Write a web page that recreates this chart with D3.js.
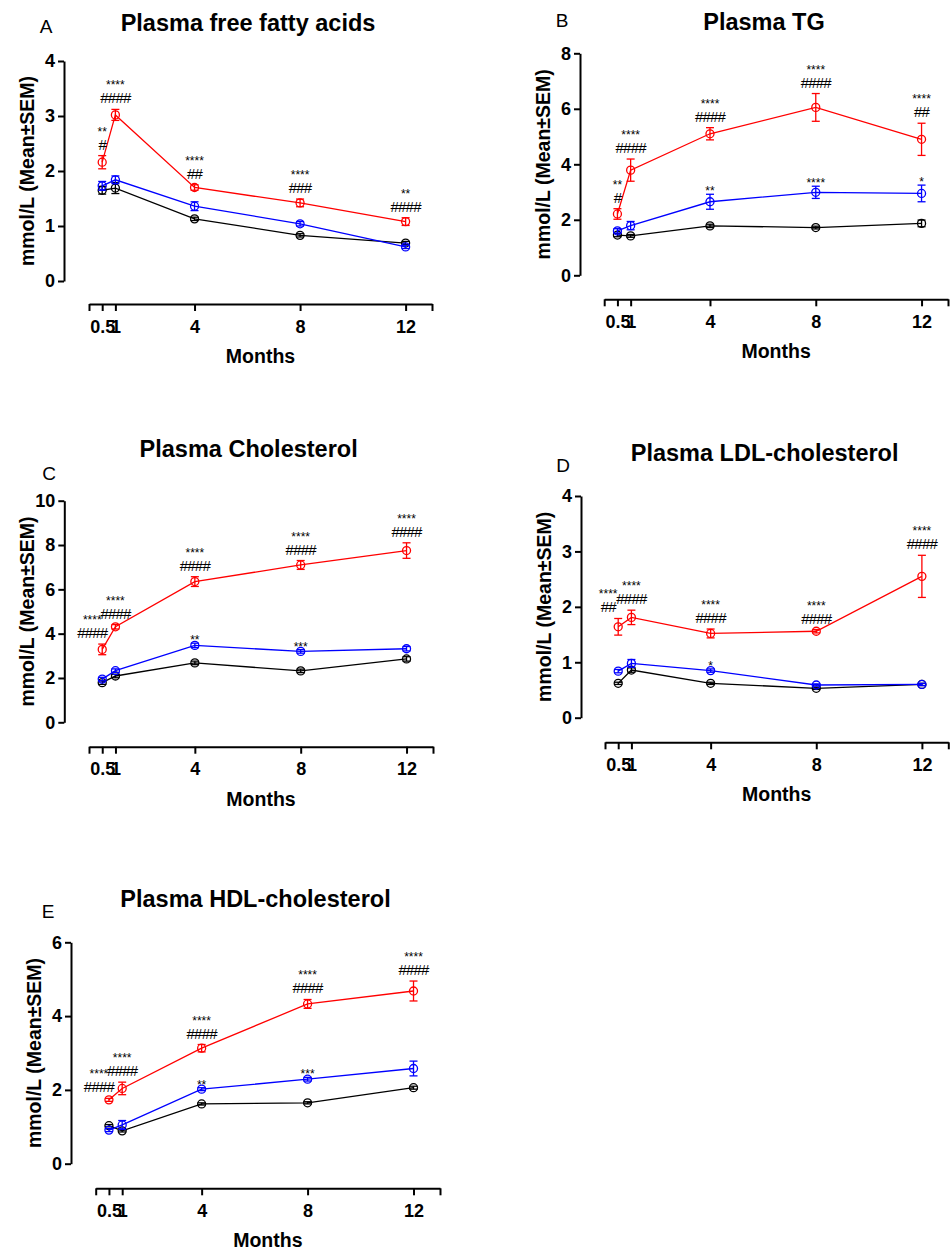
<!DOCTYPE html>
<html>
<head>
<meta charset="utf-8">
<script src="https://d3js.org/d3.v7.min.js"></script>
<style>
  body { margin: 0; background: #fff; font-family: 'Liberation Sans', Arial, sans-serif; }
  svg text { font-family: 'Liberation Sans', Arial, sans-serif; fill: #000; }
  .axis path, .axis line { stroke: #000; stroke-width: 2px; }
  .axis text { font-size: 18px; font-weight: bold; }
  .title { font-size: 23.5px; font-weight: bold; }
  .axis-title { font-size: 19.5px; font-weight: bold; }
  .letter { font-size: 19px; }
  .stars { font-size: 12px; }
  .hashes { font-size: 15px; letter-spacing: -0.8px; }
</style>
</head>
<body>
<svg id="chart" width="950" height="1252"></svg>
<script>
// time points (months) and their tick labels
const months = [0.5, 1, 4, 8, 12];
const xTickLabels = ["0.5", "1", "4", "8", "12"];
const seriesColors = ["#000000", "#0000ff", "#ff0000"]; // control, blue group, red group

// A - plasma free fatty acids
const ffaTicks = [0, 1, 2, 3, 4];
const ffaControl = [1.65, 1.69, 1.13, 0.83, 0.69];
const ffaControlSem = [0.07, 0.1, 0.03, 0.03, 0.03];
const ffaBlue = [1.73, 1.84, 1.36, 1.04, 0.62];
const ffaBlueSem = [0.08, 0.07, 0.08, 0.04, 0.03];
const ffaRed = [2.16, 3.02, 1.70, 1.42, 1.08];
const ffaRedSem = [0.12, 0.1, 0.05, 0.07, 0.07];
// [month, series index, stars, hashes, placed left]
const ffaNotes = [[0.5, 2, "**", "#"], [1, 2, "****", "####"], [4, 2, "****", "##"],
                  [8, 2, "****", "###"], [12, 2, "**", "####"]];

// B - plasma TG
const tgTicks = [0, 2, 4, 6, 8];
const tgControl = [1.45, 1.42, 1.78, 1.72, 1.87];
const tgControlSem = [0.06, 0.05, 0.06, 0.05, 0.12];
const tgBlue = [1.60, 1.79, 2.65, 2.99, 2.95];
const tgBlueSem = [0.08, 0.15, 0.27, 0.22, 0.3];
const tgRed = [2.21, 3.79, 5.10, 6.05, 4.90];
const tgRedSem = [0.19, 0.4, 0.22, 0.5, 0.58];
const tgNotes = [[0.5, 2, "**", "#"], [1, 2, "****", "####"], [4, 2, "****", "####"],
                 [8, 2, "****", "####"], [12, 2, "****", "##"],
                 [4, 1, "**", ""], [8, 1, "****", ""], [12, 1, "*", ""]];

// C - plasma cholesterol
const cholTicks = [0, 2, 4, 6, 8, 10];
const cholControl = [1.79, 2.09, 2.68, 2.32, 2.86];
const cholControlSem = [0.08, 0.08, 0.08, 0.08, 0.1];
const cholBlue = [1.95, 2.33, 3.47, 3.20, 3.32];
const cholBlueSem = [0.08, 0.08, 0.1, 0.08, 0.1];
const cholRed = [3.29, 4.31, 6.35, 7.10, 7.75];
const cholRedSem = [0.24, 0.1, 0.22, 0.2, 0.35];
const cholNotes = [[0.5, 2, "****", "####", true], [1, 2, "****", "####"], [4, 2, "****", "####"],
                   [8, 2, "****", "####"], [12, 2, "****", "####"],
                   [4, 1, "**", ""], [8, 1, "***", ""]];

// D - plasma LDL-cholesterol
const ldlTicks = [0, 1, 2, 3, 4];
const ldlControl = [0.62, 0.86, 0.62, 0.53, 0.60];
const ldlControlSem = [0.02, 0.04, 0.02, 0.02, 0.02];
const ldlBlue = [0.84, 0.98, 0.85, 0.59, 0.60];
const ldlBlueSem = [0.03, 0.07, 0.03, 0.02, 0.02];
const ldlRed = [1.64, 1.81, 1.52, 1.56, 2.55];
const ldlRedSem = [0.15, 0.13, 0.08, 0.03, 0.38];
const ldlNotes = [[0.5, 2, "****", "##", true], [1, 2, "****", "####"], [4, 2, "****", "####"],
                  [8, 2, "****", "####"], [12, 2, "****", "####"], [4, 1, "*", ""]];

// E - plasma HDL-cholesterol
const hdlTicks = [0, 2, 4, 6];
const hdlControl = [1.03, 0.89, 1.62, 1.65, 2.06];
const hdlControlSem = [0.03, 0.03, 0.03, 0.03, 0.04];
const hdlBlue = [0.91, 1.05, 2.02, 2.29, 2.58];
const hdlBlueSem = [0.04, 0.12, 0.04, 0.05, 0.2];
const hdlRed = [1.73, 2.04, 3.13, 4.33, 4.68];
const hdlRedSem = [0.04, 0.17, 0.1, 0.12, 0.27];
const hdlNotes = [[0.5, 2, "****", "####", true], [1, 2, "****", "####"], [4, 2, "****", "####"],
                  [8, 2, "****", "####"], [12, 2, "****", "####"],
                  [4, 1, "**", ""], [8, 1, "***", ""]];

const panels = [
  { letter: "A", title: "Plasma free fatty acids", yTicks: ffaTicks,
    means: [ffaControl, ffaBlue, ffaRed], sems: [ffaControlSem, ffaBlueSem, ffaRedSem], notes: ffaNotes },
  { letter: "B", title: "Plasma TG", yTicks: tgTicks,
    means: [tgControl, tgBlue, tgRed], sems: [tgControlSem, tgBlueSem, tgRedSem], notes: tgNotes },
  { letter: "C", title: "Plasma Cholesterol", yTicks: cholTicks,
    means: [cholControl, cholBlue, cholRed], sems: [cholControlSem, cholBlueSem, cholRedSem], notes: cholNotes },
  { letter: "D", title: "Plasma LDL-cholesterol", yTicks: ldlTicks,
    means: [ldlControl, ldlBlue, ldlRed], sems: [ldlControlSem, ldlBlueSem, ldlRedSem], notes: ldlNotes },
  { letter: "E", title: "Plasma HDL-cholesterol", yTicks: hdlTicks,
    means: [hdlControl, hdlBlue, hdlRed], sems: [hdlControlSem, hdlBlueSem, hdlRedSem], notes: hdlNotes }
];

// where each panel sits on the page
const layouts = [
  { yAxisX: 64,  yTop: 61,    y0: 281,    xAxisY: 304,    x0: 89,    x1: 432,   titleY: 23,    letterX: 46,  letterY: 26 },
  { yAxisX: 580, yTop: 53.3,  y0: 275.3,  xAxisY: 299.3,  x0: 604.2, x1: 948,   titleY: 22,    letterX: 562, letterY: 20 },
  { yAxisX: 64.3, yTop: 500.7, y0: 722.3, xAxisY: 746.7,  x0: 89,    x1: 433,   titleY: 449,   letterX: 49,  letterY: 473 },
  { yAxisX: 581, yTop: 496,   y0: 717.7,  xAxisY: 742.3,  x0: 605,   x1: 948.3, titleY: 452.7, letterX: 563, letterY: 465 },
  { yAxisX: 71,  yTop: 942.3, y0: 1163.7, xAxisY: 1188.3, x0: 95.7,  x1: 440,   titleY: 898.3, letterX: 48,  letterY: 911.7 }
];

const svg = d3.select("#chart");

panels.forEach((p, i) => {
  const L = layouts[i];
  const g = svg.append("g");

  const x = d3.scaleLinear().domain([0, 13]).range([L.x0, L.x1]);
  const y = d3.scaleLinear().domain([0, d3.max(p.yTicks)]).range([L.y0, L.yTop]);

  // y axis
  g.append("g")
    .attr("class", "axis")
    .attr("transform", `translate(${L.yAxisX},0)`)
    .call(d3.axisLeft(y).tickValues(p.yTicks).tickSize(6).tickSizeOuter(0).tickPadding(3)
      .tickFormat(d3.format("d")));

  // x axis, offset below the y axis
  g.append("g")
    .attr("class", "axis")
    .attr("transform", `translate(0,${L.xAxisY})`)
    .call(d3.axisBottom(x).tickValues([0, ...months, 13]).tickSize(7).tickSizeOuter(0).tickPadding(9)
      .tickFormat(d => {
        const k = months.indexOf(d);
        return k < 0 ? "" : xTickLabels[k];
      }));

  // titles
  g.append("text").attr("class", "title")
    .attr("x", (L.yAxisX + L.x1) / 2).attr("y", L.titleY).attr("dy", "0.35em")
    .attr("text-anchor", "middle").text(p.title);
  g.append("text").attr("class", "letter")
    .attr("x", L.letterX).attr("y", L.letterY).attr("dy", "0.35em")
    .attr("text-anchor", "middle").text(p.letter);
  g.append("text").attr("class", "axis-title")
    .attr("transform", `translate(${L.yAxisX - 37},${(L.y0 + L.yTop) / 2}) rotate(-90)`)
    .attr("dy", "0.35em").attr("text-anchor", "middle").text("mmol/L (Mean±SEM)");
  g.append("text").attr("class", "axis-title")
    .attr("x", (L.x0 + L.x1) / 2).attr("y", L.xAxisY + 52).attr("dy", "0.35em")
    .attr("text-anchor", "middle").text("Months");

  // series: line, error bars, open circles
  p.means.forEach((vals, s) => {
    const col = seriesColors[s];
    const pts = months.map((m, k) => ({ m: m, v: vals[k], e: p.sems[s][k] }));

    g.append("path").datum(pts)
      .attr("fill", "none").attr("stroke", col).attr("stroke-width", 1.3)
      .attr("d", d3.line().x(d => x(d.m)).y(d => y(d.v)));

    const eb = g.append("g").attr("stroke", col).attr("stroke-width", 1.3)
      .selectAll("g").data(pts).join("g");
    eb.append("line")
      .attr("x1", d => x(d.m)).attr("x2", d => x(d.m))
      .attr("y1", d => y(d.v - d.e)).attr("y2", d => y(d.v + d.e));
    eb.append("line")
      .attr("x1", d => x(d.m) - 4).attr("x2", d => x(d.m) + 4)
      .attr("y1", d => y(d.v + d.e)).attr("y2", d => y(d.v + d.e));
    eb.append("line")
      .attr("x1", d => x(d.m) - 4).attr("x2", d => x(d.m) + 4)
      .attr("y1", d => y(d.v - d.e)).attr("y2", d => y(d.v - d.e));

    g.append("g").selectAll("circle").data(pts).join("circle")
      .attr("cx", d => x(d.m)).attr("cy", d => y(d.v)).attr("r", 4)
      .attr("fill", "none").attr("stroke", col).attr("stroke-width", 1.3);
  });

  // significance marks above the error bars
  p.notes.forEach(([m, s, stars, hashes, left]) => {
    const k = months.indexOf(m);
    const top = y(p.means[s][k] + p.sems[s][k]);
    const cx = x(m) + (left ? -10 : 0);
    if (hashes) {
      const hb = top - 6;
      g.append("text").attr("class", "hashes").attr("x", cx).attr("y", hb)
        .attr("text-anchor", "middle").text(hashes);
      g.append("text").attr("class", "stars").attr("x", cx).attr("y", hb - 14)
        .attr("text-anchor", "middle").text(stars);
    } else {
      g.append("text").attr("class", "stars").attr("x", cx).attr("y", top + 1)
        .attr("text-anchor", "middle").text(stars);
    }
  });
});
</script>
</body>
</html>
